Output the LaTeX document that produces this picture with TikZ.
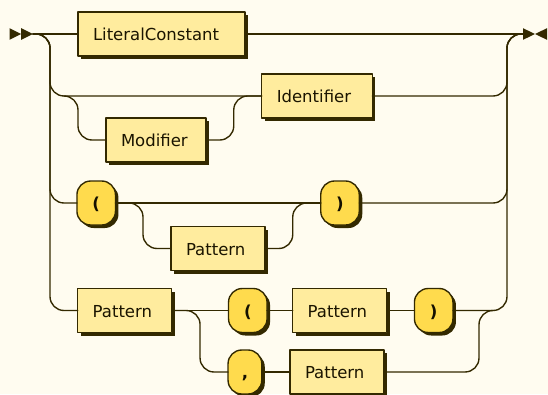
\documentclass[tikz,border=0pt]{standalone}
\usepackage{fontspec}
\setmainfont{DejaVu Sans}
\usetikzlibrary{shadows}
\definecolor{bgc}{HTML}{FFFCF0}
\definecolor{linec}{HTML}{332900}
\definecolor{ntfill}{HTML}{FFEC9E}
\definecolor{tfill}{HTML}{FFDB4D}
\definecolor{ntext}{HTML}{1A1400}
\definecolor{ttext}{HTML}{141000}
\tikzset{
  rail/.style={draw=linec,line width=1.375pt,rounded corners=14pt},
  box/.style={draw=linec,line width=1.375pt,minimum height=44pt,outer sep=0pt,
    text height=15pt,text depth=2pt,
    drop shadow={shadow xshift=3pt,shadow yshift=-3pt,fill=linec,opacity=1}},
  nonterm/.style={box,fill=ntfill,text=ntext,inner xsep=15pt,text width=#1,align=left,
    font=\fontsize{16.5}{20}\selectfont},
  term/.style={box,fill=tfill,text=ttext,rounded corners=13.75pt,inner sep=0pt,minimum width=#1,
    font=\fontsize{16.5}{20}\selectfont\bfseries}
}
\begin{document}
\begin{tikzpicture}[line cap=round,line join=round,x=1pt,y=-1pt]
\useasboundingbox (0,0) rectangle (548,394);
\fill[bgc] (0,0) rectangle (548,394);
\node[nonterm=137pt] (lit) at (161.5,34) {LiteralConstant};
\node[nonterm=70pt] (modif) at (156,140) {Modifier};
\node[nonterm=80.5pt] (ident) at (317,96) {Identifier};
\node[term=38.5pt] (lpar) at (96.2,203) {(};
\node[nonterm=64pt] (patA) at (218,248.5) {Pattern};
\node[term=38.5pt] (rpar) at (340,203) {)};
\node[nonterm=64pt] (patB) at (124.7,310.5) {Pattern};
\node[term=38.5pt] (lparB) at (247.8,310.5) {(};
\node[nonterm=64pt] (patC) at (339.7,310.5) {Pattern};
\node[term=38.5pt] (rparB) at (433.7,310.5) {)};
\node[term=33.7pt] (comma) at (244.9,372) {,};
\node[nonterm=64pt] (patD) at (337,372) {Pattern};
\coordinate (in) at (33,34);
\coordinate (out) at (523,34);
\coordinate (lrail) at (50,34);
\coordinate (rrail) at (507,34);
\coordinate (split) at (64,96);
\coordinate (join) at (493,310.5);
\fill[linec] (9.5,28.2) -- (21.2,34) -- (9.5,39.8) -- cycle;
\fill[linec] (21.2,28.2) -- (33,34) -- (21.2,39.8) -- cycle;
\fill[linec] (523,28.2) -- (535,34) -- (523,39.8) -- cycle;
\fill[linec] (547,28.2) -- (535,34) -- (547,39.8) -- cycle;
\draw[rail] (in) -- (lit.west);
\draw[rail] (lit.east) -- (out);
\draw[rail] (in) -| (lrail |- ident) -- (ident.west);
\draw[rail] (split) -| ([xshift=-28pt]modif.west) -- (modif.west);
\draw[rail] (modif.east) -| ([xshift=-28pt]ident.west) -- (ident.west);
\draw[rail] (ident.east) -| (rrail) -- (out);
\draw[rail] (in) -| (lrail |- lpar) -- (lpar.west);
\draw[rail] (lpar.east) -- (rpar.west);
\draw[rail] (lpar.east) -| ([xshift=-28pt]patA.west) -- (patA.west);
\draw[rail] (patA.east) -| ([xshift=-28pt]rpar.west) -- (rpar.west);
\draw[rail] (rpar.east) -| (rrail) -- (out);
\draw[rail] (in) -| (lrail |- patB) -- (patB.west);
\draw[rail] (patB.east) -- (lparB.west) (lparB.east) -- (patC.west) (patC.east) -- (rparB.west);
\draw[rail] (patB.east) -| ([xshift=-28pt]comma.west) -- (comma.west);
\draw[rail] (comma.east) -- (patD.west);
\draw[rail] (patD.east) -| ([xshift=-14pt]join) -- (join);
\draw[rail] (rparB.east) -| (rrail) -- (out);
\end{tikzpicture}
\end{document}
